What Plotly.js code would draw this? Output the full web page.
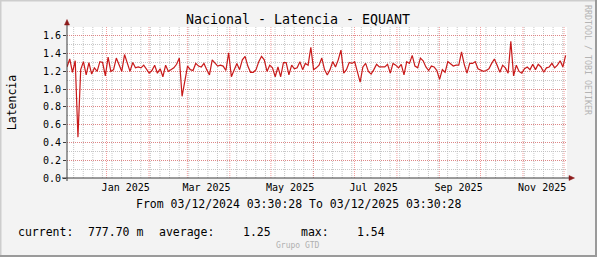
<!DOCTYPE html>
<html>
<head>
<meta charset="utf-8">
<script src="https://cdn.plot.ly/plotly-3.0.1.min.js"></script>
<style>
html,body{margin:0;padding:0;background:#f3f3f3;}
#chart{width:597px;height:257px;}
</style>
</head>
<body>
<div id="chart"></div>
<script>
// ---------------- DATA ----------------
const chartTitle = 'Nacional - Latencia - EQUANT';
const yTitle = 'Latencia';
const periodText = 'From 03/12/2024 03:30:28 To 03/12/2025 03:30:28';
const startDate = [2024, 11, 3, 3, 30, 28];   // 03/12/2024 03:30:28
const endDate = [2025, 11, 3, 3, 30, 28];     // 03/12/2025 03:30:28
const sampleStepDays = 2;
const latencia = [
  1.25,1.34,1.19,1.32,0.46,1.22,1.31,1.16,1.30,1.17,
  1.24,1.20,1.31,1.30,1.15,1.36,1.20,1.22,1.35,1.27,
  1.20,1.39,1.30,1.20,1.30,1.24,1.25,1.24,1.27,1.23,
  1.18,1.21,1.27,1.18,1.23,1.14,1.27,1.20,1.22,1.24,
  1.28,1.35,0.92,1.10,1.26,1.22,1.21,1.29,1.26,1.25,
  1.29,1.22,1.16,1.33,1.30,1.26,1.27,1.26,1.21,1.41,
  1.14,1.22,1.29,1.22,1.33,1.37,1.26,1.19,1.19,1.22,
  1.31,1.37,1.33,1.20,1.27,1.24,1.14,1.25,1.14,1.30,
  1.30,1.16,1.27,1.23,1.24,1.31,1.22,1.29,1.27,1.47,
  1.22,1.24,1.27,1.35,1.22,1.16,1.22,1.31,1.25,1.33,
  1.44,1.18,1.22,1.30,1.29,1.31,1.20,1.08,1.25,1.29,
  1.20,1.17,1.22,1.28,1.25,1.25,1.25,1.28,1.18,1.29,
  1.27,1.24,1.28,1.16,1.31,1.29,1.38,1.26,1.24,1.35,
  1.32,1.25,1.21,1.26,1.25,1.21,1.11,1.22,1.19,1.31,
  1.28,1.26,1.27,1.27,1.42,1.28,1.18,1.29,1.29,1.31,
  1.23,1.21,1.20,1.21,1.23,1.29,1.34,1.27,1.19,1.27,
  1.24,1.18,1.54,1.15,1.27,1.20,1.18,1.23,1.25,1.22,
  1.28,1.22,1.28,1.25,1.19,1.24,1.25,1.29,1.24,1.27,
  1.32,1.25,1.38
];
const xTickVals = ['2025-01-15','2025-03-15','2025-05-15','2025-07-15','2025-09-15','2025-11-15'];
const xTickLabels = ['Jan 2025','Mar 2025','May 2025','Jul 2025','Sep 2025','Nov 2025'];
const yTickVals = [0,0.2,0.4,0.6,0.8,1.0,1.2,1.4,1.6];
const legendLabels = ['current:', 'average:', 'max:'];
const legendValues = ['777.70 m', '1.25', '1.54'];
const footerText = 'Grupo GTD';
const watermark = 'RRDTOOL / TOBI OETIKER';

// ---------------- HELPERS ----------------
function pad(n){return (n<10?'0':'')+n;}
function fmt(d){
  return d.getUTCFullYear()+'-'+pad(d.getUTCMonth()+1)+'-'+pad(d.getUTCDate())+' '+
    pad(d.getUTCHours())+':'+pad(d.getUTCMinutes())+':'+pad(d.getUTCSeconds());
}
const t0 = Date.UTC.apply(null, startDate);
const t1 = Date.UTC.apply(null, endDate);
const xDates = latencia.map((v,i)=>fmt(new Date(t0 + i*sampleStepDays*86400000)));

// pixel -> paper conversion (plot area: x 67..567, y 27..178)
const L=67, R=567, T=27, B=178;
const px = x => (x-L)/(R-L);
const py = y => (B-y)/(B-T);

const FONT = 'DejaVu Sans Mono, monospace';
const MAJOR = 'rgba(235,90,90,0.6)';
const MINOR = 'rgba(185,185,185,0.8)';

// grid shapes (vertical)
const shapes = [];
// weekly (Sundays)
let w = Date.UTC(2024,11,8);
while (w < t1){
  shapes.push({type:'line', xref:'x', yref:'paper', x0:fmt(new Date(w)), x1:fmt(new Date(w)), y0:0, y1:1,
    layer:'below', line:{color:MINOR, width:1, dash:'1px,1px'}});
  w += 7*86400000;
}
// monthly
for (let m=0; m<12; m++){
  const d = fmt(new Date(Date.UTC(2025,m,1)));
  shapes.push({type:'line', xref:'x', yref:'paper', x0:d, x1:d, y0:0, y1:1,
    layer:'below', line:{color:MAJOR, width:1, dash:'1px,1px'}});
}
// axes lines
shapes.push({type:'line', xref:'paper', yref:'paper', x0:px(62), x1:px(570), y0:0, y1:0, line:{color:'#3c3c3c', width:1}});
shapes.push({type:'line', xref:'paper', yref:'paper', x0:0, x1:0, y0:py(181), y1:py(24), line:{color:'#3c3c3c', width:1}});
// arrows
shapes.push({type:'path', xref:'paper', yref:'paper',
  path:`M ${px(569)},${py(175.5)} L ${px(574.5)},${py(178)} L ${px(569)},${py(180.5)} Z`,
  fillcolor:'#8c1a1a', line:{color:'#8c1a1a', width:0.5}});
shapes.push({type:'path', xref:'paper', yref:'paper',
  path:`M ${px(64.5)},${py(25)} L ${px(67)},${py(19.5)} L ${px(69.5)},${py(25)} Z`,
  fillcolor:'#8c1a1a', line:{color:'#8c1a1a', width:0.5}});
// frame
shapes.push({type:'line', xref:'paper', yref:'paper', x0:px(0), x1:px(597), y0:py(0.5), y1:py(0.5), line:{color:'#cdcdcd', width:2}});
shapes.push({type:'line', xref:'paper', yref:'paper', x0:px(0.5), x1:px(0.5), y0:py(0), y1:py(257), line:{color:'#cdcdcd', width:2}});
shapes.push({type:'line', xref:'paper', yref:'paper', x0:px(0), x1:px(597), y0:py(256), y1:py(256), line:{color:'#9a9a9a', width:2}});
shapes.push({type:'line', xref:'paper', yref:'paper', x0:px(596), x1:px(596), y0:py(0), y1:py(257), line:{color:'#9a9a9a', width:2}});

// annotations
const annotations = [
  {text:periodText, xref:'paper', yref:'paper', x:px(298), y:py(204.5), xanchor:'center', yanchor:'middle',
   showarrow:false, font:{family:FONT, size:11.5, color:'#000'}},
  {text:footerText, xref:'paper', yref:'paper', x:px(297.5), y:py(245.5), xanchor:'center', yanchor:'middle',
   showarrow:false, font:{family:FONT, size:8, color:'#b0b0b0'}},
  {text:watermark, xref:'paper', yref:'paper', x:px(588), y:py(60), xanchor:'center', yanchor:'middle',
   textangle:90, showarrow:false, font:{family:FONT, size:8.3, color:'#b4b4b4'}}
];
const legendX = [[16, 85.5], [157, 241], [299, 354.5]];
legendLabels.forEach((lab,i)=>{
  annotations.push({text:lab, xref:'paper', yref:'paper', x:px(legendX[i][0]), y:py(232), xanchor:'left', yanchor:'middle',
    showarrow:false, font:{family:FONT, size:11.5, color:'#000'}});
  annotations.push({text:legendValues[i], xref:'paper', yref:'paper', x:px(legendX[i][1]), y:py(232), xanchor:'left', yanchor:'middle',
    showarrow:false, font:{family:FONT, size:11.5, color:'#000'}});
});

const trace = {
  type:'scatter', mode:'lines', x:xDates, y:latencia,
  line:{color:'#c81a1a', width:1.2}, hoverinfo:'skip', showlegend:false
};

const layout = {
  width:597, height:257,
  paper_bgcolor:'#f3f3f3', plot_bgcolor:'#ffffff',
  margin:{l:L, r:597-R, t:T, b:257-B, pad:0},
  showlegend:false,
  title:{text:chartTitle, xref:'container', yref:'container', x:298/597, y:1-19/257,
    xanchor:'center', yanchor:'middle', font:{family:FONT, size:13.3, color:'#000'}},
  xaxis:{type:'date', range:[fmt(new Date(t0)), fmt(new Date(t1))],
    tickmode:'array', tickvals:xTickVals, ticktext:xTickLabels,
    showgrid:false, zeroline:false, showline:false, ticks:'', ticklabelstandoff:2,
    tickfont:{family:FONT, size:10, color:'#000'}, fixedrange:true},
  yaxis:{range:[0,1.7], tickmode:'array', tickvals:yTickVals, tickformat:'.1f',
    showgrid:true, gridcolor:MAJOR, griddash:'1px,1px', gridwidth:1,
    minor:{dtick:0.1, tick0:0, showgrid:true, gridcolor:MINOR, griddash:'1px,1px', gridwidth:1},
    zeroline:false, showline:false, ticks:'outside', ticklen:3, tickcolor:'#3c3c3c',
    tickfont:{family:FONT, size:10, color:'#000'},
    title:{text:yTitle, standoff:23, font:{family:FONT, size:11.5, color:'#000'}},
    fixedrange:true},
  shapes:shapes, annotations:annotations
};

Plotly.newPlot('chart', [trace], layout, {displayModeBar:false, staticPlot:true});
</script>
</body>
</html>
